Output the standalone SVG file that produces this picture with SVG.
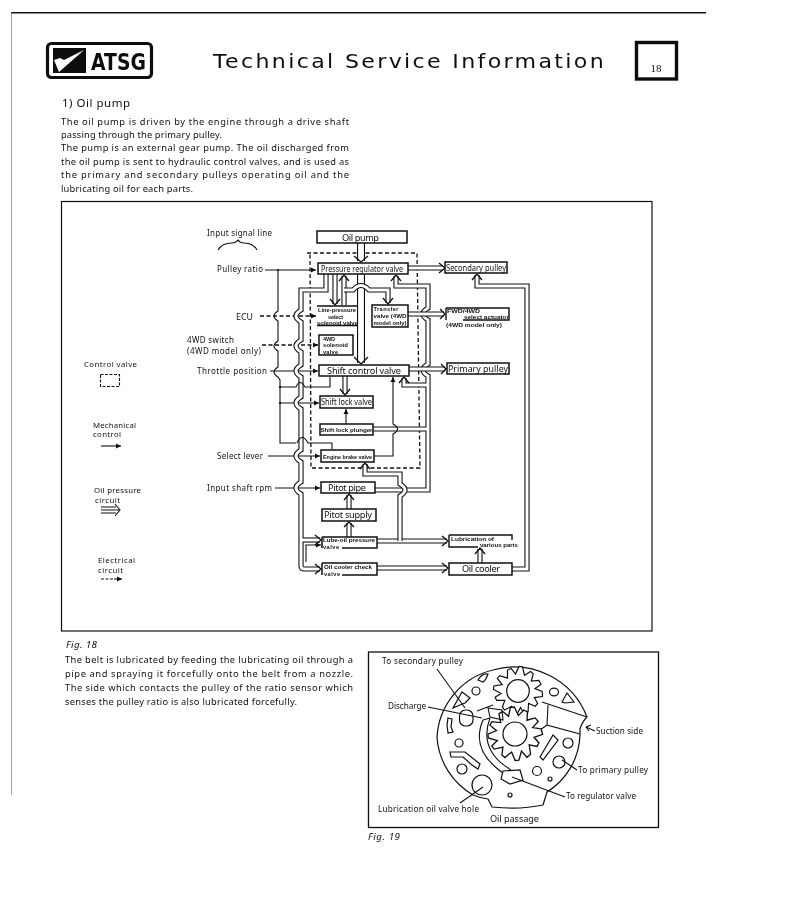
<svg xmlns="http://www.w3.org/2000/svg" width="800" height="923" viewBox="0 0 800 923">
<style>
text{font-family:"Noto Sans","Liberation Sans",Arial,sans-serif;fill:#111}
.body{font-size:9.300px}
.lb{font-size:8px}
.lg{font-size:7.800px}
.n{fill:#fff;stroke:#111;stroke-width:1.500}
.m{font-size:9.200px}
.sm{font-size:5.600px;font-family:"Liberation Sans",Arial,sans-serif;font-weight:700}
.f{font-size:8.200px}
.o{fill:none;stroke:#111;stroke-width:5.200}
.i{fill:none;stroke:#fff;stroke-width:3}
.wo{fill:none;stroke:#111;stroke-width:8}
.wi{fill:none;stroke:#fff;stroke-width:5.800}
.c{fill:none;stroke:#111;stroke-width:1.300}
.l{fill:none;stroke:#111;stroke-width:1.100}
.d{fill:none;stroke:#111;stroke-width:1.300;stroke-dasharray:4 2.500}
.g{fill:#fff;stroke:#111;stroke-width:1.200}
.h{fill:none;stroke:#111;stroke-width:1.100}
</style>
<defs>
<filter id="scan" x="0" y="0" width="100%" height="100%"><feGaussianBlur stdDeviation="0.350"/></filter>
<marker id="a" markerWidth="6" markerHeight="6" refX="5" refY="3" orient="auto" markerUnits="userSpaceOnUse"><path d="M0 .5L5 3L0 5.500z" fill="#111"/></marker>
<path id="gear" class="g" d="M24 -2.500L25 2.500L17 4.500L21 10L19 13L12 11L12.500 19.500L9 22L4.500 16L1.500 24L-2 24L-4.500 16L-11 20.500L-13.500 18L-12 11L-20 12L-22 9L-16.500 4.500L-24.500 1.500L-24.500 -2L-16.500 -4.500L-22 -10L-20 -13L-12 -11.500L-13 -19.500L-9.500 -21.500L-4.500 -16.500L-2 -24.500L1.500 -24.500L4.500 -16.500L10 -21L13 -19L12 -11.500L19.500 -13L22 -9.500L16.500 -4.500Z"/>
<g id="oil">
<path d="M326 274V290H301V310q-10 6 0 12V340q-10 6 0 12V365q-10 6 0 12V397q-10 6 0 12V450q-10 6 0 12V482q-10 6 0 12V566q0 3 4 3H320"/>
<path d="M301 540H320"/>
<path d="M396 276V286H428V308q-10 6 0 12V364q-10 6 0 12V490H375"/>
<path d="M428 385H404V378"/>
<path d="M373 429H428"/>
<path d="M512 569H527V286H477V275"/>
<path d="M335 274V304"/>
<path d="M344 305V276"/>
<path d="M345 376V394"/>
<path d="M349 537V523"/>
<path d="M349 509V495"/>
<path d="M377 541H447"/>
<path d="M377 568H447"/>
<path d="M480 563V549"/>
</g>
<g id="oiltop">
<path d="M344 290H353Q361 281 369 290H388V303"/>
<path d="M407 268H443"/>
<path d="M408 314H444"/>
<path d="M409 369H445"/>
<path d="M400 541V496q10 -6 0 -12V474H365V464"/>
</g>
<g id="oilwide">
<path d="M361 243V261"/>
<path d="M361 274V363"/>
</g>
</defs>
<rect width="800" height="923" fill="#fff"/>
<g filter="url(#scan)">
<g id="page">
<path d="M11 12.500H706" stroke="#111" stroke-width="2.200" fill="none"/>
<path d="M11 12V795" stroke="#666" stroke-width="1.200" fill="none"/>
</g>
<g id="logo">
<rect x="47.500" y="43.500" width="104" height="34" rx="4" fill="#fff" stroke="#111" stroke-width="3.200"/>
<rect x="53" y="48" width="33" height="25" fill="#111"/>
<path d="M54 60L59 72L84 50L64 60L60 58z" fill="#fff"/>
<text x="91" y="70" font-size="23" font-weight="700" textLength="55" lengthAdjust="spacingAndGlyphs" style="font-family:'DejaVu Sans',sans-serif">ATSG</text>
</g>
<text x="213" y="68" font-size="19" letter-spacing="2" textLength="393" lengthAdjust="spacingAndGlyphs" style="font-family:'DejaVu Sans',sans-serif">Technical Service Information</text>
<g id="page-number">
<rect x="636.500" y="42.500" width="40" height="36.500" fill="#fff" stroke="#111" stroke-width="3.400"/>
<text x="656" y="71.500" font-size="11" text-anchor="middle" style="font-family:'Liberation Serif',serif">18</text>
</g>
<text x="62" y="107" font-size="11.500" textLength="68">1)  Oil pump</text>
<g id="intro">
<text class="body" x="61" y="124.500" textLength="288">The oil pump is driven by the engine through a drive shaft</text>
<text class="body" x="61" y="138" textLength="161">passing through the primary pulley.</text>
<text class="body" x="61" y="150.500" textLength="288">The pump is an external gear pump. The oil discharged from</text>
<text class="body" x="61" y="165" textLength="288">the oil pump is sent to hydraulic control valves, and is used as</text>
<text class="body" x="61" y="178" textLength="288">the primary and secondary pulleys operating oil and the</text>
<text class="body" x="61" y="192" textLength="132">lubricating oil for each parts.</text>
</g>
<rect id="frame" x="61.500" y="201.500" width="590.500" height="429.500" fill="#fff" stroke="#111" stroke-width="1.200"/>
<g id="legend">
<text class="lg" x="84" y="367" textLength="53">Control valve</text>
<rect x="100.500" y="374.500" width="19" height="12" class="l" stroke-dasharray="3 1.500"/>
<text class="lg" x="93" y="428" textLength="43">Mechanical</text><text class="lg" x="93" y="437" textLength="28">control</text>
<path d="M101 446H121" class="l" marker-end="url(#a)"/>
<text class="lg" x="94" y="493" textLength="47">Oil pressure</text><text class="lg" x="95" y="503" textLength="25">circuit</text>
<path d="M101 507H116M101 510H119M101 513H116M115 504L120 510L115 516" class="l"/>
<text class="lg" x="98" y="563" textLength="37">Electrical</text><text class="lg" x="98" y="573" textLength="25">circuit</text>
<path d="M101 579H114" class="l" stroke-dasharray="3 1.500"/><path d="M114 579H122" class="l" marker-end="url(#a)"/>
</g>
<g id="connectors">
<path d="M307 253H417L420 468H311L310 253" class="d"/>
<path d="M218 250Q222 243 232 243Q236 243 238 240Q240 243 244 243Q253 243 257 250" class="l"/>
<path d="M265 270H316" class="l" marker-end="url(#a)"/>
<path d="M278 270V311q-8 5 0 10V341q-8 5 0 10V367q-8 5 0 10L280 380V443H296M280 387H296" class="l"/>
<circle cx="278" cy="270" r="1.100" fill="#111"/><circle cx="280" cy="387" r="1.100" fill="#111"/><circle cx="280" cy="403" r="1.100" fill="#111"/>
<path d="M280 403H319" class="l" marker-end="url(#a)"/>
<path d="M270 371H318" class="l" marker-end="url(#a)"/>
<path d="M260 316H316" class="d" marker-end="url(#a)"/>
<path d="M262 345H318" class="d" marker-end="url(#a)"/>
<path d="M268 456H320" class="l" marker-end="url(#a)"/>
<path d="M275 488H320" class="l" marker-end="url(#a)"/>
<path d="M306 562V545H321" class="l" marker-end="url(#a)"/>
<use href="#oil" class="o"/><use href="#oil" class="i"/>
<use href="#oilwide" class="wo"/><use href="#oilwide" class="wi"/>
<use href="#oiltop" class="o"/><use href="#oiltop" class="i"/>
<path class="c" d="M354 256L361 262L368 256M354 357L361 364L368 357M330 299L335 305L340 299M339 281L344 275L349 281M383 298L388 304L393 298M391 281L396 275L401 281M472 280L477 274L482 280M439 263L445 268L439 273M440 309L445 314L440 319M441 364L446 369L441 374M340 389L345 395L350 389M399 383L404 377L409 383M360 469L365 463L370 469M344 500L349 494L354 500M344 527L349 522L354 527M315 535L321 540L315 545M315 564L321 569L315 574M442 536L448 541L442 546M442 563L448 568L442 573M475 554L480 548L485 554"/>
<path d="M296 387q4 -9 9 0H330V377M297 443q5 -11 11 0H332V449" class="l"/>
<path d="M346 424V409" class="l" marker-end="url(#a)"/>
<path d="M374 456H393V434q9 -5 0 -10V377" class="l" marker-end="url(#a)"/>
</g>
<g id="pressure-regulator"><rect x="318" y="263" width="90" height="11" class="n"/><text class="f" x="321" y="272" textLength="82" lengthAdjust="spacingAndGlyphs">Pressure regulator valve</text></g>
<g id="oil-pump"><rect x="317" y="231" width="90" height="12" class="n"/><text class="m" x="342" y="241" textLength="37">Oil pump</text></g>
<g id="secondary-pulley"><rect x="445" y="262" width="62" height="11" class="n"/><text class="f" x="446" y="271" textLength="60" lengthAdjust="spacingAndGlyphs">Secondary pulley</text></g>
<g id="line-pressure"><path d="M317 306H358M317 325.500H358" class="n"/><text class="sm" x="318" y="312" textLength="38" lengthAdjust="spacingAndGlyphs">Line-pressure</text><text class="sm" x="328" y="318.500" textLength="15">select</text><text class="sm" x="317" y="325" textLength="41" lengthAdjust="spacingAndGlyphs">solenoid valve</text></g>
<g id="transfer"><rect x="372" y="305" width="36" height="22" class="n"/><text class="sm" x="373.500" y="311" textLength="25">Transfer</text><text class="sm" x="373.500" y="318" textLength="33" lengthAdjust="spacingAndGlyphs">valve (4WD</text><text class="sm" x="373.500" y="325" textLength="33" lengthAdjust="spacingAndGlyphs">model only)</text></g>
<g id="fwd"><path d="M446 308V320M446 308H509V320H463" class="l" style="stroke-width:1.400"/><text class="sm" x="447" y="312.800" textLength="33" lengthAdjust="spacingAndGlyphs">FWD/4WD</text><text class="sm" x="464" y="319.300" textLength="45" lengthAdjust="spacingAndGlyphs">select actuator</text><text class="sm" x="446" y="326.500" textLength="56" lengthAdjust="spacingAndGlyphs">(4WD model only)</text></g>
<g id="solenoid-4wd"><rect x="319" y="335" width="34" height="20" class="n"/><text class="sm" x="323" y="340.500" textLength="12">4WD</text><text class="sm" x="323" y="347" textLength="25" lengthAdjust="spacingAndGlyphs">solenoid</text><text class="sm" x="323" y="353.500" textLength="15">valve</text></g>
<g id="shift-control"><rect x="319" y="365" width="90" height="11" class="n"/><text class="m" x="327" y="374" textLength="74">Shift control valve</text></g>
<g id="primary-pulley"><rect x="447" y="363" width="62" height="11" class="n"/><text class="f" x="448" y="372" textLength="60" style="font-size:8.800px" lengthAdjust="spacingAndGlyphs">Primary pulley</text></g>
<g id="shift-lock-valve"><rect x="320" y="396" width="53" height="12" class="n"/><text class="f" x="321" y="405" textLength="51" lengthAdjust="spacingAndGlyphs">Shift lock valve</text></g>
<g id="shift-lock-plunger"><rect x="320" y="424" width="53" height="11" class="n"/><text class="sm" x="320.500" y="432" textLength="52" lengthAdjust="spacingAndGlyphs" style="font-size:6.200px">Shift lock plunger</text></g>
<g id="engine-brake"><rect x="321" y="450" width="53" height="12" class="n"/><text class="sm" x="323" y="458.500" textLength="49" lengthAdjust="spacingAndGlyphs">Engine brake valve</text></g>
<g id="pitot-pipe"><rect x="321" y="482" width="54" height="11" class="n"/><text class="m" x="328" y="491" textLength="38">Pitot pipe</text></g>
<g id="pitot-supply"><rect x="322" y="509" width="54" height="12" class="n"/><text class="m" x="324" y="518" textLength="48">Pitot supply</text></g>
<g id="lube-oil"><path d="M322 537H377V548H342M322 537V548" class="n"/><text class="sm" x="323" y="542" textLength="52" lengthAdjust="spacingAndGlyphs">Lube-oil pressure</text><text class="sm" x="323" y="548.500" textLength="16">valve</text></g>
<g id="oil-cooler-check"><path d="M322 563H377V575H342M322 563V575" class="n"/><text class="sm" x="324" y="569" textLength="48" lengthAdjust="spacingAndGlyphs">Oil cooler check</text><text class="sm" x="324" y="575.500" textLength="16">valve</text></g>
<g id="lubrication"><path d="M449 535H512V540M449 535V547H478" class="l" style="stroke-width:1.400"/><text class="sm" x="451" y="540.500" textLength="43" lengthAdjust="spacingAndGlyphs">Lubrication of</text><text class="sm" x="480" y="547" textLength="38" lengthAdjust="spacingAndGlyphs">various parts</text></g>
<g id="oil-cooler"><rect x="449" y="563" width="63" height="12" class="n"/><text class="m" x="462" y="572" textLength="38">Oil cooler</text></g>
<g id="signals">
<text class="lb" x="207" y="236" textLength="65">Input signal line</text>
<text class="lb" x="217" y="272" textLength="46">Pulley ratio</text>
<text class="lb" x="236" y="320" textLength="17" style="font-size:8.800px">ECU</text>
<text class="lb" x="187" y="343" textLength="47">4WD switch</text><text class="lb" x="187" y="354" textLength="74">(4WD model only)</text>
<text class="lb" x="197" y="374" textLength="70">Throttle position</text>
<text class="lb" x="217" y="459" textLength="46">Select lever</text>
<text class="lb" x="207" y="491" textLength="65">Input shaft rpm</text>
</g>
<g id="captions">
<text x="66" y="648" font-size="9.800" font-style="italic" textLength="31">Fig. 18</text>
<text x="368" y="840" font-size="9.800" font-style="italic" textLength="32">Fig. 19</text>
</g>
<g id="outro">
<text class="body" x="65" y="663" textLength="288">The belt is lubricated by feeding the lubricating oil through a</text>
<text class="body" x="65" y="677" textLength="288">pipe and spraying it forcefully onto the belt from a nozzle.</text>
<text class="body" x="65" y="691" textLength="288">The side which contacts the pulley of the ratio sensor which</text>
<text class="body" x="65" y="705" textLength="232">senses the pulley ratio is also lubricated forcefully.</text>
</g>
<g id="fig19">
<rect x="368.500" y="652" width="290" height="175.500" fill="#fff" stroke="#111" stroke-width="1.300"/>
<path d="M587 717A78 78 0 0 0 493 670A73 73 0 0 0 437 738A73 73 0 0 0 473 795Q480 798 488 799L492 807Q520 810 543 805L547 792A70 70 0 0 0 580 735L580 729Q582 722 587 717Z" class="g"/>
<path d="M542 702L587 717M548 705L547 725L580 734M547 725L540 730" class="h"/>
<use href="#gear" transform="translate(518 691) rotate(7)"/>
<circle cx="518" cy="691" r="11.300" class="g"/>
<use href="#gear" transform="translate(515 734) rotate(-5) scale(1.100)" style="stroke-width:1.100"/>
<circle cx="515" cy="734" r="12" class="g"/>
<path d="M477 711L493 705M488 708L502 710L503 720L490 717ZM483 720L490 718M483 720Q470 750 503 773M490 718Q478 750 511 770" class="h"/>
<path d="M478 680Q482 673 488 674Q486 680 483 682ZM453 708L462 692L470 698L465 703L460 705ZM448 718L452 719L451 727L453 732L448 733L447 725ZM450 752L465 752L480 764L478 769L472 765L463 757L451 757ZM562 702L567 693L574 702L565 703ZM540 757L553 735L558 740L543 760Z" class="g"/>
<rect x="459.500" y="710" width="13.500" height="16" rx="6" class="g"/>
<path d="M503 771L520 770L523 780L510 784L501 779Z" class="g"/>
<circle cx="476" cy="691" r="4" class="g"/><circle cx="459" cy="743" r="4" class="g"/><circle cx="462" cy="769" r="5" class="g"/><circle cx="482" cy="785" r="10" class="g"/><circle cx="510" cy="795" r="2" class="g"/><circle cx="537" cy="771" r="4.500" class="g"/><circle cx="550" cy="779" r="2" class="g"/><circle cx="559" cy="762" r="6" class="g"/><circle cx="568" cy="743" r="5" class="g"/><ellipse cx="554" cy="692" rx="4.500" ry="3.800" class="g"/>
<path d="M437 669L465 708M428 707L482 718M577 770L562 760M565 797L512 777M460 803L483 787M595 731L586 727" class="h"/>
<path d="M586 727L591 725M586 727L589 731" class="h"/>
<text class="f" x="382" y="664" textLength="81">To secondary pulley</text>
<text class="f" x="388" y="709" textLength="38">Discharge</text>
<text class="f" x="596" y="734" textLength="47">Suction side</text>
<text class="f" x="578" y="773" textLength="70">To primary pulley</text>
<text class="f" x="566" y="799" textLength="70">To regulator valve</text>
<text class="f" x="378" y="812" textLength="101">Lubrication oil valve hole</text>
<text x="490" y="822" font-size="9.200" textLength="49">Oil passage</text>
</g>
</g>
</svg>
